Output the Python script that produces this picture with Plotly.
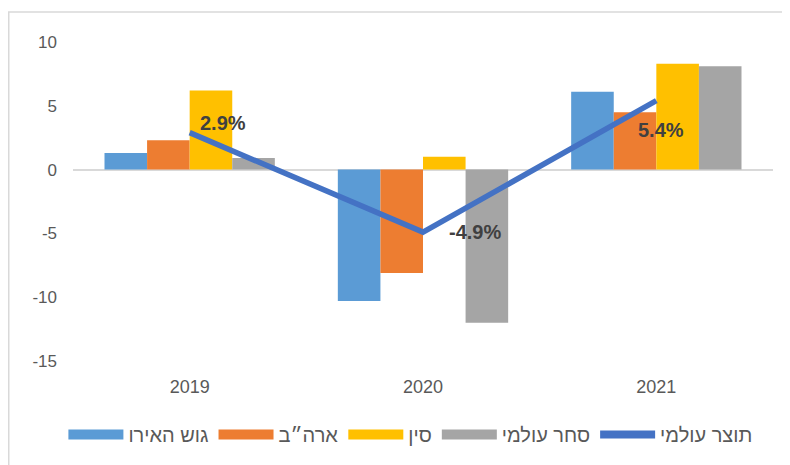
import plotly.graph_objects as go

years = ["2019", "2020", "2021"]
euro_area = [1.3, -10.3, 6.1]
usa = [2.3, -8.1, 4.5]
china = [6.2, 1.0, 8.3]
world_trade = [0.9, -12.0, 8.1]
world_gdp = [2.9, -4.9, 5.4]
gdp_labels = ["2.9%", "-4.9%", "5.4%"]
y_tick_vals = [-15, -10, -5, 0, 5, 10]
y_tick_text = ["-15", "-10", "-5", "0", "5", "10"]

names = ["גוש האירו", "ארה״ב", "סין", "סחר עולמי", "תוצר עולמי"]
colors = ["#5B9BD5", "#ED7D31", "#FFC000", "#A5A5A5", "#4472C4"]

FONT = "Liberation Sans, DejaVu Sans, Arial, sans-serif"

fig = go.Figure()
series = [euro_area, usa, china, world_trade]
for i, vals in enumerate(series):
    fig.add_trace(go.Bar(x=years, y=vals, name=names[i], marker_color=colors[i],
                         marker_line_width=0, showlegend=False, legendgroup=names[i]))

# line
fig.add_trace(go.Scatter(x=years, y=world_gdp, mode="lines", name=names[4],
                         line=dict(color=colors[4], width=5.5), showlegend=False))

# legend entries (wide swatches)
empty = [None] * len(years)
for i in range(4):
    fig.add_trace(go.Scatter(x=years, y=empty, mode="lines", name=names[i],
                             line=dict(color=colors[i], width=11), legendgroup=names[i],
                             hoverinfo="skip"))
fig.add_trace(go.Scatter(x=years, y=empty, mode="lines", name=names[4],
                         line=dict(color=colors[4], width=8), hoverinfo="skip"))

# data labels (category axis annotations use category index)
shifts = [(33, 10), (52, 0), (5, -29)]
for i in range(len(years)):
    fig.add_annotation(x=i, y=world_gdp[i], text="<b>%s</b>" % gdp_labels[i],
                       showarrow=False, xshift=shifts[i][0], yshift=shifts[i][1],
                       font=dict(family=FONT, size=20, color="#404040"))

fig.add_shape(type="rect", xref="paper", yref="paper", x0=-0.0918, x1=1.06,
              y0=-0.5, y1=1.094, line=dict(color="#D9D9D9", width=1.5), layer="below")

fig.update_layout(
    width=790, height=465,
    margin=dict(l=65, r=25, t=34, b=112),
    paper_bgcolor="white", plot_bgcolor="white",
    barmode="group", bargap=0.27, bargroupgap=0,
    font=dict(family=FONT, color="#595959", size=15),
    legend=dict(orientation="h", x=0.482, xanchor="center", y=-0.2304, yanchor="middle",
                font=dict(family=FONT, size=20, color="#595959"), itemwidth=55,
                traceorder="normal"),
    xaxis=dict(type="category", showgrid=False, showline=False, ticks="",
               ticklabelstandoff=13, tickfont=dict(size=18, color="#595959")),
    yaxis=dict(range=[-15, 10], tickmode="array", tickvals=y_tick_vals, ticktext=y_tick_text,
               showgrid=False, showline=False,
               zeroline=True, zerolinecolor="#D9D9D9", zerolinewidth=2,
               ticklabelstandoff=15, tickfont=dict(size=17, color="#595959")),
)

fig.write_html("out.html")
